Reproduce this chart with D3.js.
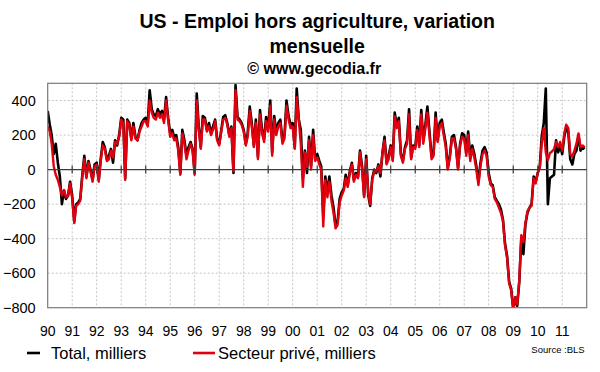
<!DOCTYPE html>
<html>
<head>
<meta charset="utf-8">
<script src="https://cdn.jsdelivr.net/npm/d3@7"></script>
<style>
  body { margin: 0; background: #fff; }
  svg text { font-family: "Liberation Sans", Arial, sans-serif; }
</style>
</head>
<body>
<script>
// monthly change, thousands, jan 1990 -> dec 2011
var total = [
  340, 260, 200, 90, 150, 40, -40, -200, -120, -170, -150, -70,      // 1990
  -150, -300, -200, -190, -170, -30, 80, -40, 50, 0, -60, 30,        // 1991
  40, -60, 60, 160, 130, 60, 80, 120, 40, 170, 140, 200,             // 1992
  300, 290, -50, 290, 270, 180, 270, 190, 170, 230, 270, 290,        // 1993
  300, 270, 460, 350, 320, 310, 350, 320, 340, 290, 420, 300,        // 1994
  210, 230, 190, 200, 130, -20, 230, 170, 80, 130, 160, 120,         // 1995
  -20, 440, 250, 130, 310, 300, 230, 270, 210, 250, 290, 180,        // 1996
  150, 230, 305, 315, 270, 200, 250, -20, 490, 305, 290, 270,        // 1997
  230, 150, 210, 365, 270, 140, 290, 75, 345, 230, 180, 305,         // 1998
  240, 400, 100, 310, 220, 270, 290, 170, 200, 400, 310, 260,        // 1999
  270, 130, 470, 290, 230, -50, 110, -20, 190, 20, 230, 60,          // 2000
  90, 50, 20, -270, -40, -130, -40, -150, -220, -320, -300, -170,    // 2001
  -130, -110, -30, -90, -10, 40, -60, -20, -40, 110, 15, -150,       // 2002
  80, -150, -210, -50, 0, -20, 30, -40, 100, 190, 40, 80,            // 2003
  140, 60, 330, 260, 300, 90, 50, 130, 170, 350, 70, 140,            // 2004
  130, 250, 140, 345, 170, 260, 365, 220, 80, 90, 330, 170,          // 2005
  270, 290, 220, 150, 10, 80, 190, 200, 130, 10, 150, 210,           // 2006
  200, 100, 220, 70, 140, 90, 20, -70, 40, 110, 130, 100,            // 2007
  -20, -80, -90, -160, -180, -200, -230, -290, -430, -500, -650, -690, // 2008
  -810, -740, -790, -650, -400, -490, -320, -250, -220, -200, -40, -70, // 2009
  -20, 20, 190, 270, 470, -200, -50, -40, -30, 170, 100, 140,        // 2010
  90, 190, 240, 220, 60, 30, 90, 110, 200, 110, 130, 120             // 2011
];

var prive = [
  250, 220, 150, 20, -30, -60, -100, -150, -120, -160, -150, -80,    // 1990
  -170, -310, -210, -200, -180, -40, 60, -50, 40, -10, -70, 20,      // 1991
  30, -70, 50, 140, 120, 50, 60, 110, 70, 160, 150, 190,             // 1992
  290, 270, -60, 280, 260, 170, 250, 180, 170, 220, 250, 280,        // 1993
  280, 250, 400, 330, 300, 290, 330, 300, 320, 270, 400, 290,        // 1994
  190, 210, 170, 180, 110, -30, 210, 150, 60, 110, 150, 110,         // 1995
  -30, 400, 240, 120, 290, 290, 220, 250, 200, 230, 280, 170,        // 1996
  140, 220, 290, 300, 260, 190, 240, -10, 460, 290, 280, 260,        // 1997
  220, 140, 190, 340, 250, 130, 270, 60, 320, 210, 160, 280,         // 1998
  220, 370, 80, 290, 200, 250, 270, 150, 180, 370, 290, 240,         // 1999
  250, 120, 420, 290, 150, -100, 100, 15, 170, 0, 200, 50,           // 2000
  70, 30, 0, -330, -60, -160, -70, -180, -250, -340, -320, -190,     // 2001
  -150, -120, -50, -100, -20, 30, -70, -30, -50, 100, 0, -160,       // 2002
  60, -140, -200, -60, -10, -10, 20, -20, 100, 170, 30, 60,          // 2003
  130, 50, 310, 240, 280, 80, 40, 120, 150, 320, 60, 130,            // 2004
  120, 230, 130, 320, 150, 240, 330, 200, 60, 80, 300, 160,          // 2005
  250, 270, 200, 130, 0, 70, 180, 180, 120, 0, 140, 190,             // 2006
  180, 80, 200, 50, 120, 70, 0, -90, 20, 90, 110, 80,                // 2007
  -40, -90, -100, -170, -190, -220, -250, -300, -440, -510, -660, -700, // 2008
  -810, -740, -780, -640, -380, -420, -310, -240, -220, -210, -50, -80, // 2009
  -20, 10, 150, 240, 100, 55, 95, 105, 120, 160, 130, 160,           // 2010
  110, 210, 260, 240, 90, 75, 110, 150, 210, 130, 140, 130           // 2011
];

var years = d3.range(1990, 2012);
var y_ticks = [400, 200, 0, -200, -400, -600, -800];
var grid_values = [400, 200, -200, -400, -600];

var width = 600;
var height = 372;
var plot = {left: 47.7, right: 586.7, top: 83.3, bottom: 307.7};

var svg = d3.select('body')
  .append('svg')
    .attr('width', width)
    .attr('height', height);

var x = d3.scaleTime()
    .domain([new Date(1990, 0, 1), new Date(2012, 0, 1)])
    .range([plot.left, plot.right]);

var y = d3.scaleLinear()
    .domain([-800, 500])
    .range([plot.bottom, plot.top]);

function monthDate(i) { return new Date(1990, i, 1); }

drawTitle();
drawGrid();
drawLines();
drawAxes();
drawLegend();

// title block
function drawTitle() {
  var cx = (plot.left + plot.right) / 2;
  var t = svg.append('g').attr('text-anchor', 'middle').style('font-weight', 'bold').attr('fill', '#000');
  t.append('text').attr('x', cx).attr('y', 28).style('font-size', '19.5px')
    .text('US - Emploi hors agriculture, variation');
  t.append('text').attr('x', cx).attr('y', 53).style('font-size', '19.5px')
    .text('mensuelle');
  t.append('text').attr('x', cx - 3).attr('y', 74).style('font-size', '16px')
    .text('\u00a9 www.gecodia.fr');
}

// dotted grid
function drawGrid() {
  var g = svg.append('g').attr('stroke', '#c4c4c4').attr('stroke-dasharray', '2,2').attr('stroke-width', 1);

  g.selectAll()
    .data(years.slice(1))
    .enter()
    .append('line')
      .attr('x1', function(d){ return x(new Date(d, 0, 1)); })
      .attr('x2', function(d){ return x(new Date(d, 0, 1)); })
      .attr('y1', plot.top)
      .attr('y2', plot.bottom);

  g.selectAll()
    .data(grid_values)
    .enter()
    .append('line')
      .attr('x1', plot.left)
      .attr('x2', plot.right)
      .attr('y1', function(d){ return y(d); })
      .attr('y2', function(d){ return y(d); });
}

// series
function drawLines() {
  svg.append('clipPath')
    .attr('id', 'clip')
    .append('rect')
      .attr('x', plot.left)
      .attr('y', plot.top)
      .attr('width', plot.right - plot.left)
      .attr('height', plot.bottom - plot.top);

  var line = d3.line()
      .x(function(d, i){ return x(monthDate(i)); })
      .y(function(d){ return y(d); });

  var g = svg.append('g').attr('clip-path', 'url(#clip)').attr('fill', 'none')
      .attr('stroke-linejoin', 'round');

  g.append('path')
    .datum(total)
    .attr('stroke', '#000')
    .attr('stroke-width', 2.6)
    .attr('d', line);

  g.append('path')
    .datum(prive)
    .attr('stroke', '#e2000f')
    .attr('stroke-width', 2.4)
    .attr('d', line);
}

// frame, zero line, labels
function drawAxes() {
  svg.append('rect')
    .attr('x', plot.left)
    .attr('y', plot.top)
    .attr('width', plot.right - plot.left)
    .attr('height', plot.bottom - plot.top)
    .attr('fill', 'none')
    .attr('stroke', '#7a7a7a')
    .attr('stroke-width', 1.2);

  svg.append('line')
    .attr('x1', plot.left)
    .attr('x2', plot.right)
    .attr('y1', y(0))
    .attr('y2', y(0))
    .attr('stroke', '#3c3c3c')
    .attr('stroke-width', 1.2);

  svg.append('g')
    .selectAll()
    .data(years.slice(1))
    .enter()
    .append('line')
      .attr('x1', function(d){ return x(new Date(d, 0, 1)); })
      .attr('x2', function(d){ return x(new Date(d, 0, 1)); })
      .attr('y1', y(0) - 4)
      .attr('y2', y(0) + 4)
      .attr('stroke', '#3c3c3c')
      .attr('stroke-width', 1.2);

  var ya = svg.append('g')
      .attr('transform', 'translate(' + plot.left + ',0)')
      .call(d3.axisLeft(y).tickValues(y_ticks).tickSize(0).tickPadding(12));
  ya.select('.domain').remove();
  ya.selectAll('text')
    .style('font-size', '14.5px')
    .style('font-family', '"Liberation Sans", Arial, sans-serif')
    .attr('fill', '#000');

  svg.append('g')
    .selectAll()
    .data(years)
    .enter()
    .append('text')
      .attr('x', function(d){ return x(new Date(d, 0, 1)); })
      .attr('y', 336)
      .attr('text-anchor', 'middle')
      .style('font-size', '14px')
      .text(function(d){ return d3.format('02')(d % 100); });

  svg.append('text')
    .attr('x', plot.right - 2)
    .attr('y', 353)
    .attr('text-anchor', 'end')
    .style('font-size', '9.5px')
    .text('Source :BLS');
}

// legend
function drawLegend() {
  var items = [
    {label: 'Total, milliers', color: '#000', x1: 27, x2: 40, tx: 51},
    {label: 'Secteur priv\u00e9, milliers', color: '#e2000f', x1: 193, x2: 215, tx: 218}
  ];
  var g = svg.append('g');
  items.forEach(function(d) {
    g.append('line')
      .attr('x1', d.x1).attr('x2', d.x2)
      .attr('y1', 353).attr('y2', 353)
      .attr('stroke', d.color)
      .attr('stroke-width', 2.6);
    g.append('text')
      .attr('x', d.tx)
      .attr('y', 359)
      .style('font-size', '16.5px')
      .text(d.label);
  });
}
</script>
</body>
</html>
